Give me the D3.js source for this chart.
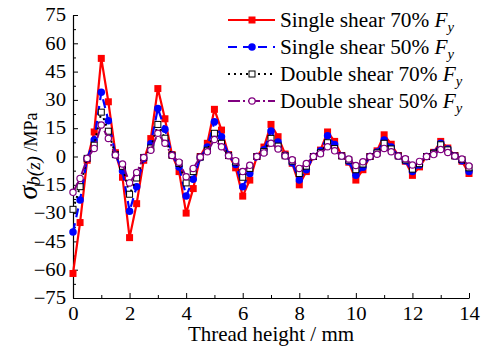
<!DOCTYPE html>
<html>
<head>
<meta charset="utf-8">
<script src="https://cdn.jsdelivr.net/npm/d3@7"></script>
<style>
  body { margin: 0; background: #fff; }
</style>
</head>
<body>
<div id="chart"></div>
<script>
// thread height (mm)
const height_mm = [0, 0.25, 0.5, 0.75, 1, 1.25, 1.5, 1.75, 2, 2.25, 2.5, 2.75, 3, 3.25, 3.5, 3.75,
  4, 4.25, 4.5, 4.75, 5, 5.25, 5.5, 5.75, 6, 6.25, 6.5, 6.75, 7, 7.25, 7.5, 7.75,
  8, 8.25, 8.5, 8.75, 9, 9.25, 9.5, 9.75, 10, 10.25, 10.5, 10.75, 11, 11.25, 11.5, 11.75,
  12, 12.25, 12.5, 12.75, 13, 13.25, 13.5, 13.75, 14];

// sigma_b(z) in MPa
const single70 = [-62, -35, -2, 13, 52, 29, 2, -11, -43, -25, -2, 9.5, 36, 20, 1, -8,
  -30, -17, 0, 7, 25, 14, 1, -6, -21, -12.5, 0, 5, 17, 10.5, 1.3, -3.6,
  -15, -8, 0, 3.4, 13, 8, 0.5, -3, -12.5, -7, 0, 3, 11.5, 6.5, 0.5, -2.5,
  -10, -5.5, 0, 2.2, 8, 4.5, 0.5, -2.5, -9];
const single50 = [-40, -23, -1, 8.7, 34, 19, 1, -7.7, -29, -16, -1, 6.8, 25.5, 14.5, 0.8, -5.5,
  -21, -12, -0.5, 5, 18.4, 10.5, 0.8, -4.3, -16, -9, 0, 3.6, 13.5, 7.7, 0.6, -3.3,
  -12.5, -7, 0, 3, 11, 6.3, 0.4, -2.7, -10, -5.7, 0, 2.4, 8.7, 5, 0.3, -2.2,
  -8, -4.5, 0, 1.9, 7, 4, 0.3, -2.2, -8];
const double70 = [-28, -16, -1, 6, 23.5, 13.4, 1, -5.2, -20, -11.4, -0.5, 4.5, 17, 9.7, 0.6, -3.7,
  -14, -8, -0.3, 3.3, 12.3, 7, 0.5, -2.9, -11, -6.3, 0, 2.6, 9.6, 5.5, 0.4, -2.4,
  -9, -5.1, 0, 2, 7.3, 4.2, 0.3, -1.9, -7, -4, 0, 1.9, 7, 4, 0.3, -1.8,
  -6.7, -3.8, 0, 1.7, 6.2, 3.5, 0.3, -1.6, -6];
const double50 = [-19, -11.6, -1, 4.3, 16.7, 9.6, 0.8, -4, -14, -8.5, -0.5, 3.3, 12.3, 7, 0.5, -3,
  -10.7, -6.3, -0.3, 2.5, 9, 5.2, 0.4, -2.2, -8, -4.7, 0, 1.9, 7, 4, 0.3, -1.7,
  -6.3, -3.7, 0, 1.5, 5.2, 3, 0.2, -1.3, -4.8, -2.8, 0, 1.2, 4.3, 2.5, 0.2, -1.2,
  -4.5, -2.6, 0, 1, 3.7, 2.1, 0.2, -1.3, -5];

const seriesNames = ["Single shear 70% ", "Single shear 50% ", "Double shear 70% ", "Double shear 50% "];
const xTicks = [0, 2, 4, 6, 8, 10, 12, 14];
const yTicks = [-75, -60, -45, -30, -15, 0, 15, 30, 45, 60, 75];

const W = 485, H = 349;
const x0 = 73, x1 = 469, yTop = 15, yBot = 298;
const SERIF = '"Liberation Serif", "DejaVu Serif", serif';

const svg = d3.select("#chart").append("svg")
  .attr("width", W).attr("height", H);

const x = d3.scaleLinear().domain([0, 14]).range([x0, x1]);
const y = d3.scaleLinear().domain([-75, 75]).range([yBot, yTop]);

// stretch a text horizontally (the figure was widened)
function stretch(sel, k) {
  sel.each(function () {
    const w = this.getComputedTextLength();
    d3.select(this).attr("textLength", w * k).attr("lengthAdjust", "spacingAndGlyphs");
  });
}

// minor ticks
svg.append("g").attr("transform", `translate(0,${yBot})`)
  .call(d3.axisBottom(x).tickValues(d3.range(1, 14, 2)).tickSize(-3).tickFormat(""))
  .call(g => g.select(".domain").remove());
svg.append("g").attr("transform", `translate(${x0},0)`)
  .call(d3.axisLeft(y).tickValues(d3.range(-67.5, 75, 15)).tickSize(-3).tickFormat(""))
  .call(g => g.select(".domain").remove());

// main axes
const gx = svg.append("g").attr("transform", `translate(0,${yBot})`)
  .call(d3.axisBottom(x).tickValues(xTicks).tickSize(-5).tickPadding(9).tickSizeOuter(0));
const gy = svg.append("g").attr("transform", `translate(${x0},0)`)
  .call(d3.axisLeft(y).tickValues(yTicks).tickSize(-5).tickPadding(7).tickSizeOuter(0));

[gx, gy].forEach(g => {
  g.attr("font-family", null).attr("font-size", null);
  g.selectAll("text").style("font-family", SERIF).style("font-size", "18px");
  g.select(".domain").attr("stroke-width", 1.2);
  g.selectAll(".tick line").attr("stroke-width", 1);
  stretch(g.selectAll("text"), 1.15);
});
svg.selectAll(".tick line").attr("stroke", "#000");

// axis titles
svg.append("text").attr("x", (x0 + x1) / 2).attr("y", 341)
  .attr("text-anchor", "middle").style("font-family", SERIF).style("font-size", "21px")
  .text("Thread height / mm");

const yt = svg.append("text").attr("transform", "translate(37,156) rotate(-90)")
  .attr("text-anchor", "middle").style("font-family", SERIF).style("font-size", "18px");
yt.append("tspan").style("font-style", "italic").style("font-size", "28px").text("σ");
yt.append("tspan").style("font-style", "italic").style("font-size", "19px").attr("dy", 3).text("b(z)");
yt.append("tspan").attr("dy", -3).text(" /MPa");

// series
const styles = [
  { data: single70, color: "#ff0000", dash: null, width: 2.2, marker: "square", fill: "#ff0000", size: 7 },
  { data: single50, color: "#0000ff", dash: "9,6", width: 2.2, marker: "circle", fill: "#0000ff", size: 7.5 },
  { data: double70, color: "#000000", dash: "2,4", width: 2, marker: "square", fill: "#ffffff", size: 6 },
  { data: double50, color: "#800080", dash: "12,3,2,3", width: 2, marker: "circle", fill: "#ffffff", size: 7.5 }
];

const line = d3.line().x((d, i) => x(height_mm[i])).y(d => y(d));

function drawMarker(g, cx, cy, s) {
  if (s.marker === "square") {
    g.append("rect").attr("x", cx - s.size / 2).attr("y", cy - s.size / 2)
      .attr("width", s.size).attr("height", s.size)
      .attr("fill", s.fill).attr("stroke", s.color).attr("stroke-width", s.fill === "#ffffff" ? 1 : 0);
  } else {
    g.append("circle").attr("cx", cx).attr("cy", cy).attr("r", s.size / 2 - (s.fill === "#ffffff" ? 0.6 : 0))
      .attr("fill", s.fill).attr("stroke", s.color).attr("stroke-width", s.fill === "#ffffff" ? 1.2 : 0);
  }
}

styles.forEach(s => {
  const g = svg.append("g");
  g.append("path").datum(s.data).attr("d", line)
    .attr("fill", "none").attr("stroke", s.color).attr("stroke-width", s.width)
    .attr("stroke-dasharray", s.dash).attr("stroke-linejoin", "round");
  s.data.forEach((v, i) => drawMarker(g, x(height_mm[i]), y(v), s));
});

// legend
const lg = svg.append("g");
seriesNames.forEach((name, i) => {
  const s = styles[i];
  const cy = 20 + i * 27;
  lg.append("line").attr("x1", 228).attr("x2", 275).attr("y1", cy).attr("y2", cy)
    .attr("stroke", s.color).attr("stroke-width", s.width).attr("stroke-dasharray", s.dash);
  drawMarker(lg, 252, cy, s);
  const t = lg.append("text").attr("x", 280).attr("y", cy + 7)
    .style("font-family", SERIF).style("font-size", "20.5px").text(name);
  t.append("tspan").style("font-style", "italic").text("F");
  t.append("tspan").style("font-style", "italic").style("font-size", "14px").attr("dy", 5).text("y");
  stretch(t, 1.04);
});
</script>
</body>
</html>
